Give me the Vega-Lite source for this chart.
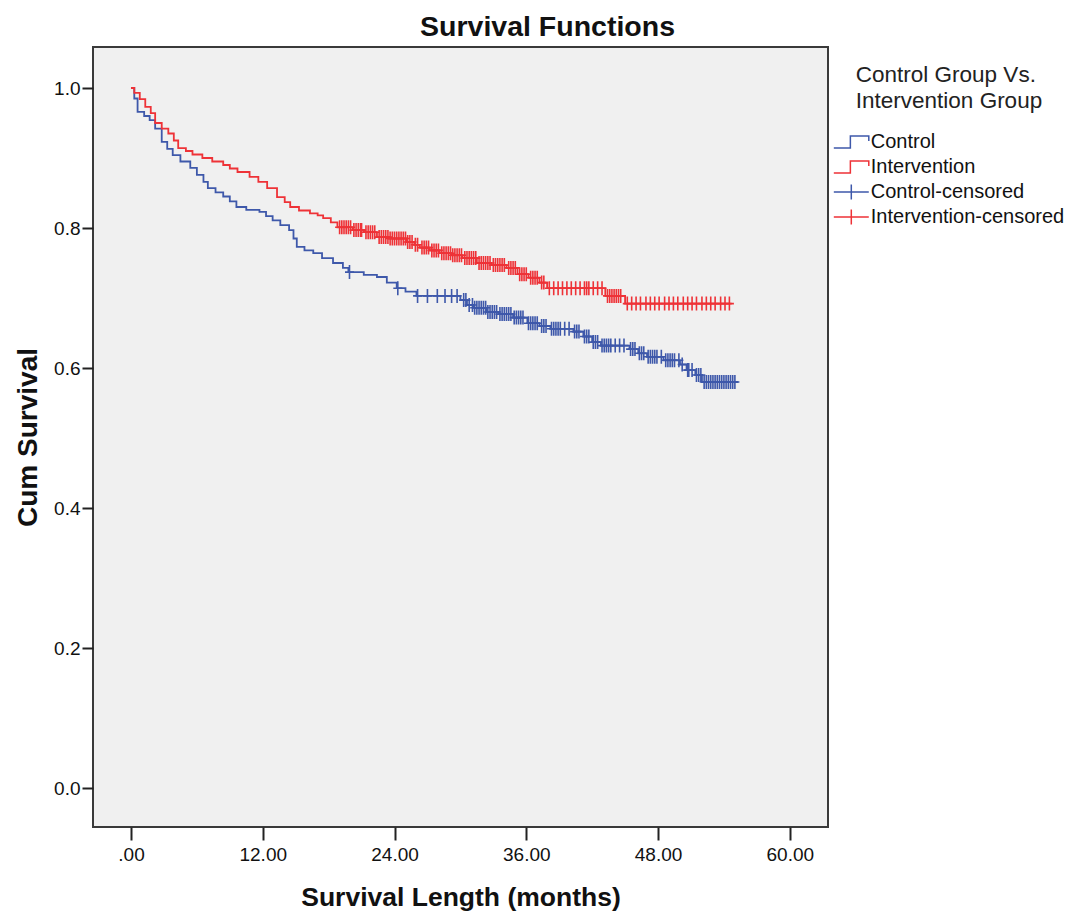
{
  "$schema": "https://vega.github.io/schema/vega-lite/v6.json",
  "autosize": {"type": "none"},
  "width": 735,
  "height": 780,
  "padding": {"left": 93, "top": 47, "right": 245, "bottom": 86},
  "background": "white",
  "title": {"text": "Survival Functions", "font": "Liberation Sans", "fontSize": 28.5, "fontWeight": "bold", "color": "#111", "anchor": "middle", "dx": 87, "offset": 6},
  "config": {
    "view": {"fill": "#F0F0F0", "stroke": "#3a3a3a", "strokeWidth": 2},
    "axis": {"grid": false, "domain": false, "labelFont": "Liberation Sans", "titleFont": "Liberation Sans", "labelColor": "#111", "titleColor": "#111", "tickColor": "#222", "tickWidth": 2}
  },
  "datasets": {
    "curves": [
      {"series": "Control", "t": 0, "s": 1.0},
      {"series": "Control", "t": 0.3, "s": 0.985},
      {"series": "Control", "t": 0.6, "s": 0.966},
      {"series": "Control", "t": 1.2, "s": 0.960},
      {"series": "Control", "t": 1.7, "s": 0.954},
      {"series": "Control", "t": 2.2, "s": 0.942},
      {"series": "Control", "t": 2.8, "s": 0.923},
      {"series": "Control", "t": 3.3, "s": 0.913},
      {"series": "Control", "t": 3.8, "s": 0.904},
      {"series": "Control", "t": 4.5, "s": 0.895},
      {"series": "Control", "t": 5.4, "s": 0.886},
      {"series": "Control", "t": 6.0, "s": 0.876},
      {"series": "Control", "t": 6.6, "s": 0.866},
      {"series": "Control", "t": 7.0, "s": 0.857},
      {"series": "Control", "t": 7.7, "s": 0.851},
      {"series": "Control", "t": 8.4, "s": 0.845},
      {"series": "Control", "t": 9.0, "s": 0.838},
      {"series": "Control", "t": 9.6, "s": 0.830},
      {"series": "Control", "t": 10.5, "s": 0.826},
      {"series": "Control", "t": 11.7, "s": 0.823},
      {"series": "Control", "t": 12.3, "s": 0.817},
      {"series": "Control", "t": 12.9, "s": 0.811},
      {"series": "Control", "t": 13.6, "s": 0.804},
      {"series": "Control", "t": 14.4, "s": 0.797},
      {"series": "Control", "t": 14.8, "s": 0.785},
      {"series": "Control", "t": 15.1, "s": 0.773},
      {"series": "Control", "t": 15.8, "s": 0.768},
      {"series": "Control", "t": 16.6, "s": 0.764},
      {"series": "Control", "t": 17.4, "s": 0.757},
      {"series": "Control", "t": 18.4, "s": 0.750},
      {"series": "Control", "t": 19.3, "s": 0.743},
      {"series": "Control", "t": 19.8, "s": 0.737},
      {"series": "Control", "t": 21.2, "s": 0.733},
      {"series": "Control", "t": 22.4, "s": 0.730},
      {"series": "Control", "t": 23.3, "s": 0.722},
      {"series": "Control", "t": 24.2, "s": 0.714},
      {"series": "Control", "t": 25.0, "s": 0.709},
      {"series": "Control", "t": 26.0, "s": 0.703},
      {"series": "Control", "t": 30.0, "s": 0.697},
      {"series": "Control", "t": 30.6, "s": 0.690},
      {"series": "Control", "t": 31.2, "s": 0.686},
      {"series": "Control", "t": 32.4, "s": 0.680},
      {"series": "Control", "t": 33.5, "s": 0.677},
      {"series": "Control", "t": 34.8, "s": 0.672},
      {"series": "Control", "t": 36.1, "s": 0.664},
      {"series": "Control", "t": 37.2, "s": 0.660},
      {"series": "Control", "t": 38.2, "s": 0.656},
      {"series": "Control", "t": 40.3, "s": 0.652},
      {"series": "Control", "t": 41.2, "s": 0.645},
      {"series": "Control", "t": 42.0, "s": 0.637},
      {"series": "Control", "t": 42.8, "s": 0.632},
      {"series": "Control", "t": 45.4, "s": 0.627},
      {"series": "Control", "t": 46.2, "s": 0.621},
      {"series": "Control", "t": 47.0, "s": 0.616},
      {"series": "Control", "t": 48.5, "s": 0.611},
      {"series": "Control", "t": 50.0, "s": 0.605},
      {"series": "Control", "t": 50.6, "s": 0.597},
      {"series": "Control", "t": 51.4, "s": 0.590},
      {"series": "Control", "t": 52.0, "s": 0.580},
      {"series": "Control", "t": 55.3, "s": 0.580},
      {"series": "Intervention", "t": 0, "s": 1.0},
      {"series": "Intervention", "t": 0.3, "s": 0.993},
      {"series": "Intervention", "t": 0.8, "s": 0.984},
      {"series": "Intervention", "t": 1.3, "s": 0.973},
      {"series": "Intervention", "t": 1.8, "s": 0.964},
      {"series": "Intervention", "t": 2.2, "s": 0.950},
      {"series": "Intervention", "t": 2.8, "s": 0.942},
      {"series": "Intervention", "t": 3.4, "s": 0.935},
      {"series": "Intervention", "t": 3.9, "s": 0.925},
      {"series": "Intervention", "t": 4.3, "s": 0.914},
      {"series": "Intervention", "t": 5.0, "s": 0.910},
      {"series": "Intervention", "t": 5.6, "s": 0.905},
      {"series": "Intervention", "t": 6.5, "s": 0.900},
      {"series": "Intervention", "t": 7.4, "s": 0.895},
      {"series": "Intervention", "t": 8.4, "s": 0.890},
      {"series": "Intervention", "t": 9.0, "s": 0.885},
      {"series": "Intervention", "t": 9.7, "s": 0.880},
      {"series": "Intervention", "t": 10.8, "s": 0.873},
      {"series": "Intervention", "t": 11.6, "s": 0.866},
      {"series": "Intervention", "t": 12.4, "s": 0.857},
      {"series": "Intervention", "t": 13.3, "s": 0.844},
      {"series": "Intervention", "t": 14.0, "s": 0.837},
      {"series": "Intervention", "t": 14.5, "s": 0.830},
      {"series": "Intervention", "t": 15.3, "s": 0.825},
      {"series": "Intervention", "t": 16.3, "s": 0.821},
      {"series": "Intervention", "t": 17.0, "s": 0.818},
      {"series": "Intervention", "t": 17.5, "s": 0.814},
      {"series": "Intervention", "t": 18.2, "s": 0.808},
      {"series": "Intervention", "t": 18.8, "s": 0.801},
      {"series": "Intervention", "t": 20.2, "s": 0.797},
      {"series": "Intervention", "t": 21.2, "s": 0.794},
      {"series": "Intervention", "t": 22.4, "s": 0.787},
      {"series": "Intervention", "t": 23.5, "s": 0.785},
      {"series": "Intervention", "t": 25.1, "s": 0.780},
      {"series": "Intervention", "t": 25.8, "s": 0.776},
      {"series": "Intervention", "t": 26.3, "s": 0.772},
      {"series": "Intervention", "t": 27.2, "s": 0.768},
      {"series": "Intervention", "t": 28.1, "s": 0.764},
      {"series": "Intervention", "t": 29.2, "s": 0.761},
      {"series": "Intervention", "t": 30.2, "s": 0.757},
      {"series": "Intervention", "t": 31.5, "s": 0.750},
      {"series": "Intervention", "t": 32.8, "s": 0.747},
      {"series": "Intervention", "t": 34.2, "s": 0.743},
      {"series": "Intervention", "t": 35.2, "s": 0.734},
      {"series": "Intervention", "t": 36.2, "s": 0.729},
      {"series": "Intervention", "t": 37.2, "s": 0.722},
      {"series": "Intervention", "t": 37.9, "s": 0.714},
      {"series": "Intervention", "t": 43.2, "s": 0.703},
      {"series": "Intervention", "t": 45.0, "s": 0.692},
      {"series": "Intervention", "t": 54.7, "s": 0.692}
    ],
    "censor": [
      {"series": "Control-censored", "t": 19.9, "s": 0.737},
      {"series": "Control-censored", "t": 24.3, "s": 0.714},
      {"series": "Control-censored", "t": 26.1, "s": 0.703},
      {"series": "Control-censored", "t": 27.0, "s": 0.703},
      {"series": "Control-censored", "t": 27.9, "s": 0.703},
      {"series": "Control-censored", "t": 28.6, "s": 0.703},
      {"series": "Control-censored", "t": 29.2, "s": 0.703},
      {"series": "Control-censored", "t": 29.7, "s": 0.703},
      {"series": "Control-censored", "t": 30.3, "s": 0.697},
      {"series": "Control-censored", "t": 30.5, "s": 0.697},
      {"series": "Control-censored", "t": 30.8, "s": 0.690},
      {"series": "Control-censored", "t": 31.1, "s": 0.690},
      {"series": "Control-censored", "t": 31.3, "s": 0.686},
      {"series": "Control-censored", "t": 31.5, "s": 0.686},
      {"series": "Control-censored", "t": 31.7, "s": 0.686},
      {"series": "Control-censored", "t": 31.9, "s": 0.686},
      {"series": "Control-censored", "t": 32.1, "s": 0.686},
      {"series": "Control-censored", "t": 32.3, "s": 0.686},
      {"series": "Control-censored", "t": 32.5, "s": 0.680},
      {"series": "Control-censored", "t": 32.7, "s": 0.680},
      {"series": "Control-censored", "t": 32.9, "s": 0.680},
      {"series": "Control-censored", "t": 33.1, "s": 0.680},
      {"series": "Control-censored", "t": 33.3, "s": 0.680},
      {"series": "Control-censored", "t": 33.6, "s": 0.677},
      {"series": "Control-censored", "t": 33.8, "s": 0.677},
      {"series": "Control-censored", "t": 34.0, "s": 0.677},
      {"series": "Control-censored", "t": 34.2, "s": 0.677},
      {"series": "Control-censored", "t": 34.4, "s": 0.677},
      {"series": "Control-censored", "t": 34.6, "s": 0.677},
      {"series": "Control-censored", "t": 34.9, "s": 0.672},
      {"series": "Control-censored", "t": 35.1, "s": 0.672},
      {"series": "Control-censored", "t": 35.3, "s": 0.672},
      {"series": "Control-censored", "t": 35.5, "s": 0.672},
      {"series": "Control-censored", "t": 35.7, "s": 0.672},
      {"series": "Control-censored", "t": 36.2, "s": 0.664},
      {"series": "Control-censored", "t": 36.4, "s": 0.664},
      {"series": "Control-censored", "t": 36.6, "s": 0.664},
      {"series": "Control-censored", "t": 36.8, "s": 0.664},
      {"series": "Control-censored", "t": 37.0, "s": 0.664},
      {"series": "Control-censored", "t": 37.4, "s": 0.660},
      {"series": "Control-censored", "t": 37.6, "s": 0.660},
      {"series": "Control-censored", "t": 37.8, "s": 0.660},
      {"series": "Control-censored", "t": 38.3, "s": 0.656},
      {"series": "Control-censored", "t": 38.5, "s": 0.656},
      {"series": "Control-censored", "t": 38.7, "s": 0.656},
      {"series": "Control-censored", "t": 38.9, "s": 0.656},
      {"series": "Control-censored", "t": 39.1, "s": 0.656},
      {"series": "Control-censored", "t": 39.5, "s": 0.656},
      {"series": "Control-censored", "t": 39.9, "s": 0.656},
      {"series": "Control-censored", "t": 40.4, "s": 0.652},
      {"series": "Control-censored", "t": 40.6, "s": 0.652},
      {"series": "Control-censored", "t": 40.8, "s": 0.652},
      {"series": "Control-censored", "t": 41.3, "s": 0.645},
      {"series": "Control-censored", "t": 41.5, "s": 0.645},
      {"series": "Control-censored", "t": 41.7, "s": 0.645},
      {"series": "Control-censored", "t": 42.1, "s": 0.637},
      {"series": "Control-censored", "t": 42.3, "s": 0.637},
      {"series": "Control-censored", "t": 42.5, "s": 0.637},
      {"series": "Control-censored", "t": 42.9, "s": 0.632},
      {"series": "Control-censored", "t": 43.1, "s": 0.632},
      {"series": "Control-censored", "t": 43.3, "s": 0.632},
      {"series": "Control-censored", "t": 43.5, "s": 0.632},
      {"series": "Control-censored", "t": 43.7, "s": 0.632},
      {"series": "Control-censored", "t": 44.1, "s": 0.632},
      {"series": "Control-censored", "t": 44.5, "s": 0.632},
      {"series": "Control-censored", "t": 44.9, "s": 0.632},
      {"series": "Control-censored", "t": 45.5, "s": 0.627},
      {"series": "Control-censored", "t": 45.7, "s": 0.627},
      {"series": "Control-censored", "t": 45.9, "s": 0.627},
      {"series": "Control-censored", "t": 46.3, "s": 0.621},
      {"series": "Control-censored", "t": 46.5, "s": 0.621},
      {"series": "Control-censored", "t": 46.7, "s": 0.621},
      {"series": "Control-censored", "t": 47.1, "s": 0.616},
      {"series": "Control-censored", "t": 47.3, "s": 0.616},
      {"series": "Control-censored", "t": 47.5, "s": 0.616},
      {"series": "Control-censored", "t": 47.7, "s": 0.616},
      {"series": "Control-censored", "t": 47.9, "s": 0.616},
      {"series": "Control-censored", "t": 48.3, "s": 0.616},
      {"series": "Control-censored", "t": 48.7, "s": 0.611},
      {"series": "Control-censored", "t": 48.9, "s": 0.611},
      {"series": "Control-censored", "t": 49.1, "s": 0.611},
      {"series": "Control-censored", "t": 49.3, "s": 0.611},
      {"series": "Control-censored", "t": 49.5, "s": 0.611},
      {"series": "Control-censored", "t": 49.9, "s": 0.611},
      {"series": "Control-censored", "t": 50.2, "s": 0.605},
      {"series": "Control-censored", "t": 50.7, "s": 0.597},
      {"series": "Control-censored", "t": 50.8, "s": 0.597},
      {"series": "Control-censored", "t": 51.1, "s": 0.597},
      {"series": "Control-censored", "t": 51.5, "s": 0.590},
      {"series": "Control-censored", "t": 51.7, "s": 0.590},
      {"series": "Control-censored", "t": 51.9, "s": 0.590},
      {"series": "Control-censored", "t": 52.2, "s": 0.580},
      {"series": "Control-censored", "t": 52.4, "s": 0.580},
      {"series": "Control-censored", "t": 52.6, "s": 0.580},
      {"series": "Control-censored", "t": 52.8, "s": 0.580},
      {"series": "Control-censored", "t": 53.0, "s": 0.580},
      {"series": "Control-censored", "t": 53.2, "s": 0.580},
      {"series": "Control-censored", "t": 53.4, "s": 0.580},
      {"series": "Control-censored", "t": 53.6, "s": 0.580},
      {"series": "Control-censored", "t": 53.8, "s": 0.580},
      {"series": "Control-censored", "t": 54.0, "s": 0.580},
      {"series": "Control-censored", "t": 54.2, "s": 0.580},
      {"series": "Control-censored", "t": 54.4, "s": 0.580},
      {"series": "Control-censored", "t": 54.6, "s": 0.580},
      {"series": "Control-censored", "t": 54.8, "s": 0.580},
      {"series": "Control-censored", "t": 55.0, "s": 0.580},
      {"series": "Intervention-censored", "t": 19.0, "s": 0.801},
      {"series": "Intervention-censored", "t": 19.2, "s": 0.801},
      {"series": "Intervention-censored", "t": 19.4, "s": 0.801},
      {"series": "Intervention-censored", "t": 19.6, "s": 0.801},
      {"series": "Intervention-censored", "t": 19.8, "s": 0.801},
      {"series": "Intervention-censored", "t": 20.0, "s": 0.801},
      {"series": "Intervention-censored", "t": 20.3, "s": 0.797},
      {"series": "Intervention-censored", "t": 20.5, "s": 0.797},
      {"series": "Intervention-censored", "t": 20.7, "s": 0.797},
      {"series": "Intervention-censored", "t": 20.9, "s": 0.797},
      {"series": "Intervention-censored", "t": 21.0, "s": 0.797},
      {"series": "Intervention-censored", "t": 21.4, "s": 0.794},
      {"series": "Intervention-censored", "t": 21.6, "s": 0.794},
      {"series": "Intervention-censored", "t": 21.8, "s": 0.794},
      {"series": "Intervention-censored", "t": 22.0, "s": 0.794},
      {"series": "Intervention-censored", "t": 22.2, "s": 0.794},
      {"series": "Intervention-censored", "t": 22.6, "s": 0.787},
      {"series": "Intervention-censored", "t": 22.8, "s": 0.787},
      {"series": "Intervention-censored", "t": 23.0, "s": 0.787},
      {"series": "Intervention-censored", "t": 23.2, "s": 0.787},
      {"series": "Intervention-censored", "t": 23.4, "s": 0.787},
      {"series": "Intervention-censored", "t": 23.6, "s": 0.785},
      {"series": "Intervention-censored", "t": 23.8, "s": 0.785},
      {"series": "Intervention-censored", "t": 24.0, "s": 0.785},
      {"series": "Intervention-censored", "t": 24.2, "s": 0.785},
      {"series": "Intervention-censored", "t": 24.4, "s": 0.785},
      {"series": "Intervention-censored", "t": 24.6, "s": 0.785},
      {"series": "Intervention-censored", "t": 24.8, "s": 0.785},
      {"series": "Intervention-censored", "t": 25.0, "s": 0.785},
      {"series": "Intervention-censored", "t": 25.2, "s": 0.780},
      {"series": "Intervention-censored", "t": 25.4, "s": 0.780},
      {"series": "Intervention-censored", "t": 25.6, "s": 0.780},
      {"series": "Intervention-censored", "t": 25.9, "s": 0.776},
      {"series": "Intervention-censored", "t": 26.1, "s": 0.776},
      {"series": "Intervention-censored", "t": 26.5, "s": 0.772},
      {"series": "Intervention-censored", "t": 26.7, "s": 0.772},
      {"series": "Intervention-censored", "t": 26.9, "s": 0.772},
      {"series": "Intervention-censored", "t": 27.1, "s": 0.772},
      {"series": "Intervention-censored", "t": 27.4, "s": 0.768},
      {"series": "Intervention-censored", "t": 27.6, "s": 0.768},
      {"series": "Intervention-censored", "t": 27.8, "s": 0.768},
      {"series": "Intervention-censored", "t": 28.0, "s": 0.768},
      {"series": "Intervention-censored", "t": 28.3, "s": 0.764},
      {"series": "Intervention-censored", "t": 28.5, "s": 0.764},
      {"series": "Intervention-censored", "t": 28.7, "s": 0.764},
      {"series": "Intervention-censored", "t": 28.9, "s": 0.764},
      {"series": "Intervention-censored", "t": 29.1, "s": 0.764},
      {"series": "Intervention-censored", "t": 29.3, "s": 0.761},
      {"series": "Intervention-censored", "t": 29.5, "s": 0.761},
      {"series": "Intervention-censored", "t": 29.7, "s": 0.761},
      {"series": "Intervention-censored", "t": 29.9, "s": 0.761},
      {"series": "Intervention-censored", "t": 30.1, "s": 0.761},
      {"series": "Intervention-censored", "t": 30.4, "s": 0.757},
      {"series": "Intervention-censored", "t": 30.6, "s": 0.757},
      {"series": "Intervention-censored", "t": 30.8, "s": 0.757},
      {"series": "Intervention-censored", "t": 31.0, "s": 0.757},
      {"series": "Intervention-censored", "t": 31.2, "s": 0.757},
      {"series": "Intervention-censored", "t": 31.4, "s": 0.757},
      {"series": "Intervention-censored", "t": 31.7, "s": 0.750},
      {"series": "Intervention-censored", "t": 31.9, "s": 0.750},
      {"series": "Intervention-censored", "t": 32.1, "s": 0.750},
      {"series": "Intervention-censored", "t": 32.3, "s": 0.750},
      {"series": "Intervention-censored", "t": 32.5, "s": 0.750},
      {"series": "Intervention-censored", "t": 32.7, "s": 0.750},
      {"series": "Intervention-censored", "t": 33.0, "s": 0.747},
      {"series": "Intervention-censored", "t": 33.2, "s": 0.747},
      {"series": "Intervention-censored", "t": 33.4, "s": 0.747},
      {"series": "Intervention-censored", "t": 33.6, "s": 0.747},
      {"series": "Intervention-censored", "t": 33.8, "s": 0.747},
      {"series": "Intervention-censored", "t": 34.0, "s": 0.747},
      {"series": "Intervention-censored", "t": 34.4, "s": 0.743},
      {"series": "Intervention-censored", "t": 34.6, "s": 0.743},
      {"series": "Intervention-censored", "t": 34.8, "s": 0.743},
      {"series": "Intervention-censored", "t": 35.0, "s": 0.743},
      {"series": "Intervention-censored", "t": 35.4, "s": 0.734},
      {"series": "Intervention-censored", "t": 35.6, "s": 0.734},
      {"series": "Intervention-censored", "t": 35.8, "s": 0.734},
      {"series": "Intervention-censored", "t": 36.0, "s": 0.734},
      {"series": "Intervention-censored", "t": 36.4, "s": 0.729},
      {"series": "Intervention-censored", "t": 36.6, "s": 0.729},
      {"series": "Intervention-censored", "t": 36.8, "s": 0.729},
      {"series": "Intervention-censored", "t": 37.0, "s": 0.729},
      {"series": "Intervention-censored", "t": 37.4, "s": 0.722},
      {"series": "Intervention-censored", "t": 37.6, "s": 0.722},
      {"series": "Intervention-censored", "t": 38.1, "s": 0.714},
      {"series": "Intervention-censored", "t": 38.5, "s": 0.714},
      {"series": "Intervention-censored", "t": 38.9, "s": 0.714},
      {"series": "Intervention-censored", "t": 39.3, "s": 0.714},
      {"series": "Intervention-censored", "t": 39.7, "s": 0.714},
      {"series": "Intervention-censored", "t": 40.1, "s": 0.714},
      {"series": "Intervention-censored", "t": 40.5, "s": 0.714},
      {"series": "Intervention-censored", "t": 40.9, "s": 0.714},
      {"series": "Intervention-censored", "t": 41.3, "s": 0.714},
      {"series": "Intervention-censored", "t": 41.5, "s": 0.714},
      {"series": "Intervention-censored", "t": 41.7, "s": 0.714},
      {"series": "Intervention-censored", "t": 42.1, "s": 0.714},
      {"series": "Intervention-censored", "t": 42.5, "s": 0.714},
      {"series": "Intervention-censored", "t": 42.9, "s": 0.714},
      {"series": "Intervention-censored", "t": 43.4, "s": 0.703},
      {"series": "Intervention-censored", "t": 43.6, "s": 0.703},
      {"series": "Intervention-censored", "t": 43.8, "s": 0.703},
      {"series": "Intervention-censored", "t": 44.0, "s": 0.703},
      {"series": "Intervention-censored", "t": 44.2, "s": 0.703},
      {"series": "Intervention-censored", "t": 44.4, "s": 0.703},
      {"series": "Intervention-censored", "t": 44.6, "s": 0.703},
      {"series": "Intervention-censored", "t": 45.2, "s": 0.692},
      {"series": "Intervention-censored", "t": 45.6, "s": 0.692},
      {"series": "Intervention-censored", "t": 46.0, "s": 0.692},
      {"series": "Intervention-censored", "t": 46.4, "s": 0.692},
      {"series": "Intervention-censored", "t": 46.9, "s": 0.692},
      {"series": "Intervention-censored", "t": 47.3, "s": 0.692},
      {"series": "Intervention-censored", "t": 47.7, "s": 0.692},
      {"series": "Intervention-censored", "t": 48.1, "s": 0.692},
      {"series": "Intervention-censored", "t": 48.6, "s": 0.692},
      {"series": "Intervention-censored", "t": 49.0, "s": 0.692},
      {"series": "Intervention-censored", "t": 49.4, "s": 0.692},
      {"series": "Intervention-censored", "t": 49.8, "s": 0.692},
      {"series": "Intervention-censored", "t": 50.3, "s": 0.692},
      {"series": "Intervention-censored", "t": 50.7, "s": 0.692},
      {"series": "Intervention-censored", "t": 51.1, "s": 0.692},
      {"series": "Intervention-censored", "t": 51.5, "s": 0.692},
      {"series": "Intervention-censored", "t": 52.0, "s": 0.692},
      {"series": "Intervention-censored", "t": 52.4, "s": 0.692},
      {"series": "Intervention-censored", "t": 52.8, "s": 0.692},
      {"series": "Intervention-censored", "t": 53.2, "s": 0.692},
      {"series": "Intervention-censored", "t": 53.7, "s": 0.692},
      {"series": "Intervention-censored", "t": 54.1, "s": 0.692},
      {"series": "Intervention-censored", "t": 54.5, "s": 0.692}
    ]
  },
  "encoding": {
    "x": {"field": "t", "type": "quantitative",
      "scale": {"domain": [-3.46, 63.48], "nice": false, "zero": false},
      "axis": {"values": [0, 12, 24, 36, 48, 60], "labelExpr": "datum.value == 0 ? '.00' : format(datum.value, '.2f')", "tickSize": 13, "labelPadding": 5, "labelFontSize": 19, "title": "Survival Length (months)", "titleFontSize": 26.5, "titleFontWeight": "bold", "titlePadding": 20}},
    "y": {"field": "s", "type": "quantitative",
      "scale": {"domain": [-0.0557, 1.0586], "nice": false, "zero": false},
      "axis": {"values": [0, 0.2, 0.4, 0.6, 0.8, 1.0], "format": ".1f", "tickSize": 11, "labelPadding": 2, "labelFontSize": 19, "title": "Cum Survival", "titleFontSize": 28, "titleFontWeight": "bold", "titlePadding": 11}},
    "color": {"field": "series", "type": "nominal",
      "scale": {"domain": ["Control", "Intervention", "Control-censored", "Intervention-censored"], "range": ["#3E58AA", "#EE3237", "#3E58AA", "#EE3237"]},
      "legend": {"orient": "none", "legendX": 745.8, "legendY": 17, "padding": 0,
        "title": ["Control Group Vs.", "Intervention Group"],
        "titleFont": "Liberation Sans", "titleFontSize": 22.5, "titleFontWeight": "normal", "titleColor": "#222", "titleLineHeight": 26, "titlePadding": 17, "titleLimit": 400,
        "labelFont": "Liberation Sans", "labelFontSize": 20, "labelColor": "#111", "labelOffset": 7, "labelLimit": 300,
        "symbolSize": 544, "symbolStrokeWidth": 1.5, "rowPadding": 2,
        "encode": {
          "title": {"update": {"dx": {"value": 17}}},
          "symbols": {"update": {
            "fill": {"value": "transparent"},
            "size": {"value": 544},
            "strokeWidth": {"value": 1.5},
            "shape": {"signal": "indexof(datum.value, 'censored') >= 0 ? 'M-1.5,0H1.5M0,-0.64V0.64' : 'M-1.5,0.52H-0.08V-0.52H1.5V-0.08'"}
          }}}}
    }
  },
  "layer": [
    {"data": {"name": "curves"},
     "mark": {"type": "line", "interpolate": "step-after", "strokeWidth": 1.8}},
    {"data": {"name": "censor"},
     "mark": {"type": "point", "filled": false, "opacity": 1, "size": 400, "strokeWidth": 1.6, "shape": "M-0.45,0H0.45M0,-0.7V0.7"}}
  ]
}
